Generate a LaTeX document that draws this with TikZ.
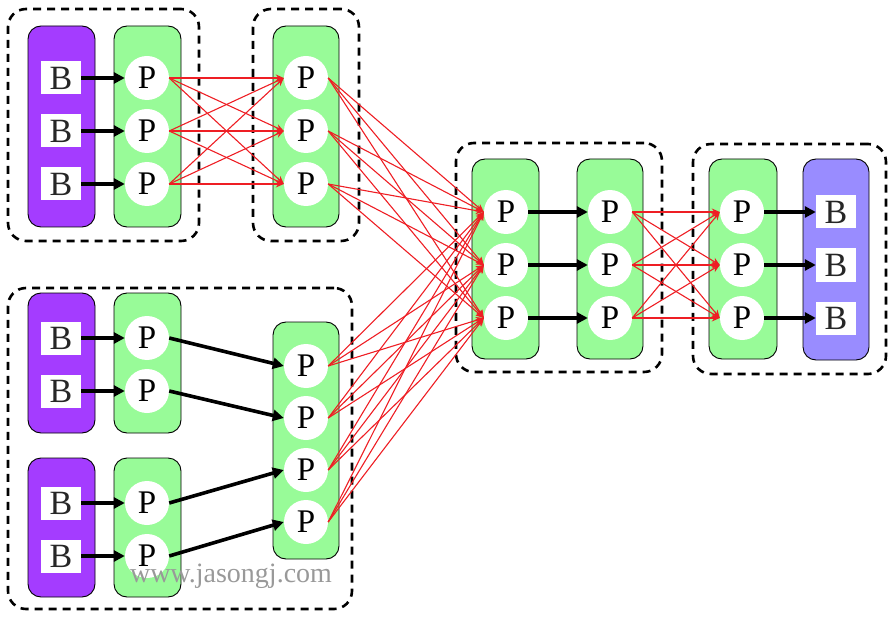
\documentclass[tikz,border=0pt]{standalone}
\usepackage{fontspec}
\setmainfont{Liberation Serif}
\usetikzlibrary{arrows.meta}
\definecolor{purp}{RGB}{164,60,255}
\definecolor{pgreen}{RGB}{152,251,152}
\definecolor{lav}{RGB}{153,140,255}
\definecolor{arrred}{RGB}{238,30,36}
\tikzset{
 col/.style={draw=black, line width=0.9pt, rounded corners=13pt, inner sep=0pt},
 pcol/.style={col, fill=purp},
 gcol/.style={col, fill=pgreen},
 bcol/.style={col, fill=lav},
 grp/.style={draw=black, line width=2.6pt, dash pattern=on 8pt off 6pt, rounded corners=18pt, inner sep=0pt},
 pn/.style={circle, fill=white, minimum size=44pt, inner sep=0pt, font=\fontsize{33}{33}\selectfont},
 bn/.style={rectangle, fill=white, minimum width=40pt, minimum height=33pt, inner sep=0pt, font=\fontsize{34}{34}\selectfont, text=black!85},
 blk/.style={-{Triangle[length=11pt,width=11pt]}, line width=3.6pt},
 rarr/.style={-{Stealth[length=8pt,width=7pt]}, draw=arrred, line width=1.1pt},
}
\begin{document}
\begin{tikzpicture}[x=1pt,y=-1pt]
\useasboundingbox (0,0) rectangle (896,620);
% dashed groups
\node[grp, minimum width=191pt, minimum height=232pt] (g1) at (103.5,125) {};
\node[grp, minimum width=106pt, minimum height=232pt] (g2) at (306,125) {};
\node[grp, minimum width=344pt, minimum height=321pt] (g3) at (180,448.5) {};
\node[grp, minimum width=206pt, minimum height=229pt] (g4) at (559,257.5) {};
\node[grp, minimum width=193pt, minimum height=230pt] (g5) at (789.5,259) {};
% columns
\node[pcol, minimum width=67pt, minimum height=201pt] (pc1) at (61.5,126.5) {};
\node[gcol, minimum width=67pt, minimum height=201pt] (gc1) at (147.5,126.5) {};
\node[gcol, minimum width=66pt, minimum height=201pt] (gc2) at (306,126.5) {};
\node[pcol, minimum width=67pt, minimum height=140pt] (pcA) at (61.5,363) {};
\node[gcol, minimum width=67pt, minimum height=140pt] (gcA) at (147.5,363) {};
\node[pcol, minimum width=67pt, minimum height=139pt] (pcB) at (61.5,527.5) {};
\node[gcol, minimum width=67pt, minimum height=139pt] (gcB) at (147.5,527.5) {};
\node[gcol, minimum width=66pt, minimum height=237pt] (gcC) at (306,440.5) {};
\node[gcol, minimum width=67pt, minimum height=200pt] (gc4a) at (505.5,259) {};
\node[gcol, minimum width=66pt, minimum height=200pt] (gc4b) at (610,259) {};
\node[gcol, minimum width=68pt, minimum height=200pt] (gc5) at (743,259) {};
\node[bcol, minimum width=66pt, minimum height=201pt] (bc5) at (836,259.5) {};
% top-left section
\foreach \i/\y in {1/78,2/131,3/184}{
  \node[bn] (ba\i) at (61,\y) {B};
  \node[pn] (pa\i) at (147,\y) {P};
  \node[pn] (pb\i) at (306,\y) {P};
  \node[pn] (pd\i) at (506,\y+134) {P};
  \node[pn] (pe\i) at (610,\y+134) {P};
  \node[pn] (pf\i) at (742,\y+134) {P};
  \node[bn] (bf\i) at (836,\y+134) {B};
}
% bottom-left section
\node[bn] (bc1) at (61,338) {B};
\node[bn] (bc2) at (61,391) {B};
\node[bn] (bc3) at (61,503) {B};
\node[bn] (bc4) at (61,556) {B};
\node[pn] (pc1n) at (147,338) {P};
\node[pn] (pc2n) at (147,391) {P};
\node[pn] (pc3n) at (147,503) {P};
\node[pn] (pc4n) at (147,556) {P};
\foreach \i/\y in {1/366,2/418,3/470,4/522}{
  \node[pn] (pg\i) at (306,\y) {P};
}
% watermark
\node[text=black!40, font=\fontsize{28}{28}\selectfont] (wm) at (231,576) {www.jasongj.com};
% black arrows
\foreach \i in {1,2,3}{
  \draw[blk] (ba\i.east) -- (pa\i.west);
  \draw[blk] (pd\i.east) -- (pe\i.west);
  \draw[blk] (pf\i.east) -- (bf\i.west);
}
\foreach \i in {1,2,3,4}{
  \draw[blk] (bc\i.east) -- (pc\i n.west);
  \draw[blk] (pc\i n.east) -- (pg\i.west);
}
% red arrows
\foreach \i in {1,2,3}{
  \foreach \j in {1,2,3}{
    \draw[rarr] (pa\i.east) -- (pb\j.west);
    \draw[rarr] (pb\i.east) -- (pd\j.west);
    \draw[rarr] (pe\i.east) -- (pf\j.west);
  }
  \foreach \k in {1,2,3,4}{
    \draw[rarr] (pg\k.east) -- (pd\i.west);
  }
}
\end{tikzpicture}
\end{document}
